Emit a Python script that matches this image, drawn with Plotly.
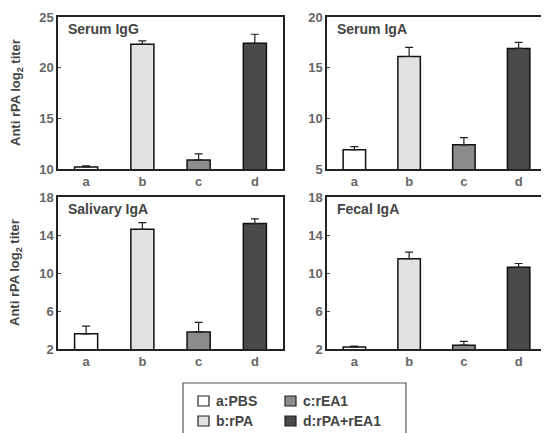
import plotly.graph_objects as go

categories = ["a", "b", "c", "d"]
legend_labels = ["a:PBS", "b:rPA", "c:rEA1", "d:rPA+rEA1"]
panel_titles = ["Serum IgG", "Serum IgA", "Salivary IgA", "Fecal IgA"]

serum_igg = [10.2, 22.3, 10.9, 22.4]
serum_igg_err = [0.1, 0.35, 0.6, 0.9]
serum_iga = [6.9, 16.1, 7.4, 16.9]
serum_iga_err = [0.3, 0.9, 0.7, 0.6]
salivary_iga = [3.6, 14.6, 3.8, 15.2]
salivary_iga_err = [0.8, 0.7, 1.0, 0.5]
fecal_iga = [2.2, 11.5, 2.4, 10.6]
fecal_iga_err = [0.1, 0.7, 0.4, 0.4]

y_ranges = [[10, 25], [5, 20], [2, 18], [2, 18]]
y_ticks = [[10, 15, 20, 25], [5, 10, 15, 20], [2, 6, 10, 14, 18], [2, 6, 10, 14, 18]]

bar_colors = ["#ffffff", "#e2e2e2", "#8c8c8c", "#4a4a4a"]

W, H = 549, 433
OFF = 8  # page body margin offset
def px_x(p): return (p - OFF) / W
def px_y(p): return 1 - (p - OFF) / H

domains_x = [(px_x(58), px_x(283)), (px_x(327), px_x(546))]
domains_y = [(px_y(169), px_y(17)), (px_y(349), px_y(197))]

values = [serum_igg, serum_iga, salivary_iga, fecal_iga]
errors = [serum_igg_err, serum_iga_err, salivary_iga_err, fecal_iga_err]

fig = go.Figure()
FONT = "Liberation Sans"
tick_font = dict(family=FONT, size=13, color="#666666", weight="bold")

for p in range(4):
    row, col = divmod(p, 2)
    ax = "" if p == 0 else str(p + 1)
    for i, cat in enumerate(categories):
        fig.add_trace(go.Bar(
            x=[cat], y=[values[p][i]],
            marker=dict(color=bar_colors[i], line=dict(color="#111111", width=1.5)),
            width=0.41,
            error_y=dict(type="data", symmetric=False, array=[errors[p][i]], arrayminus=[0],
                         visible=True, color="#222222", thickness=1.2, width=4),
            showlegend=False,
            xaxis="x" + ax, yaxis="y" + ax,
        ))
    fig.layout["xaxis" + ax] = dict(
        domain=domains_x[col], anchor="y" + ax, type="category",
        categoryorder="array", categoryarray=categories, automargin=False,
        range=[-0.5, 3.5], showline=True, linecolor="#222222", linewidth=1.5,
        mirror=True, ticks="", tickfont=tick_font, showgrid=False, fixedrange=True,
    )
    fig.layout["yaxis" + ax] = dict(
        domain=domains_y[row], anchor="x" + ax, range=y_ranges[p], automargin=False,
        tickvals=y_ticks[p], showline=True, linecolor="#222222", linewidth=1.5,
        mirror=(col == 0), ticks="inside", ticklen=3, tickcolor="#444444",
        tickfont=tick_font, showgrid=False, zeroline=False, fixedrange=True,
    )
    if col == 1:
        fig.add_shape(type="line", xref="x" + ax + " domain", yref="y" + ax + " domain",
                      x0=1, x1=1, y0=0, y1=1, line=dict(color="#bbbbbb", width=1.2))
    fig.add_annotation(text=panel_titles[p], xref="x" + ax + " domain", yref="y" + ax + " domain",
                       x=0.035, y=0.985, xanchor="left", yanchor="top", showarrow=False,
                       font=dict(family=FONT, size=14, color="#444444", weight="bold"))

# y-axis titles
for row in range(2):
    yc = (domains_y[row][0] + domains_y[row][1]) / 2
    fig.add_annotation(text="Anti rPA log<sub>2</sub> titer", xref="paper", yref="paper",
                       x=px_x(16), y=yc, xanchor="center", yanchor="middle", textangle=-90,
                       showarrow=False, font=dict(family=FONT, size=13, color="#444444", weight="bold"))

# legend box
fig.add_shape(type="rect", xref="paper", yref="paper", x0=px_x(183), x1=px_x(406),
              y0=px_y(445), y1=px_y(383), line=dict(color="#555555", width=1.2), fillcolor="white")
leg_pos = [(198, 401), (198, 421), (285, 401), (285, 421)]
for i, lab in enumerate(legend_labels):
    lx, ly = leg_pos[i]
    fig.add_shape(type="rect", xref="paper", yref="paper",
                  x0=px_x(lx), x1=px_x(lx + 11), y0=px_y(ly + 5), y1=px_y(ly - 5),
                  line=dict(color="#222222", width=1.2), fillcolor=bar_colors[i])
    fig.add_annotation(text=lab, xref="paper", yref="paper", x=px_x(lx + 16), y=px_y(ly),
                       xanchor="left", yanchor="middle", showarrow=False,
                       font=dict(family=FONT, size=14, color="#444444", weight="bold"))

fig.update_layout(
    width=W, height=H, margin=dict(l=0, r=0, t=0, b=0),
    paper_bgcolor="white", plot_bgcolor="white", barmode="overlay",
    showlegend=False,
)
fig.write_html("out.html")
